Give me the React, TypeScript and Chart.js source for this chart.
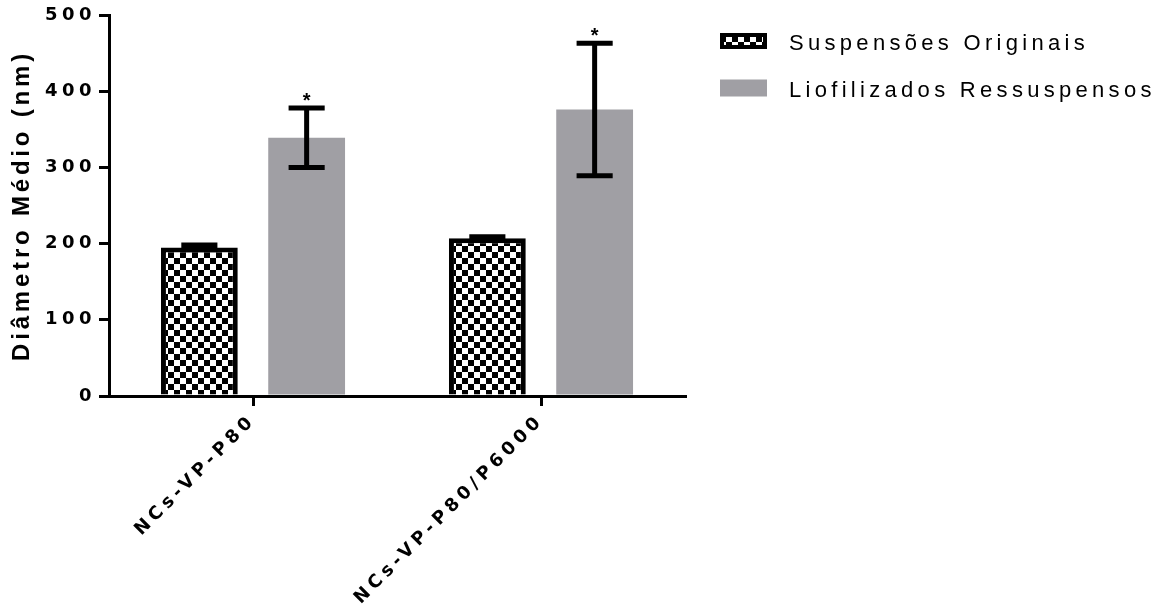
import { useEffect, useRef } from 'react';
import { Chart, registerables } from 'chart.js';

Chart.register(...registerables);

const categories = ['NCs-VP-P80', 'NCs-VP-P80/P6000'];
const seriesNames = ['Suspensões Originais', 'Liofilizados Ressuspensos'];
const originalMeans = [195, 207];
const originalErrors = [3, 2];
const originalMarks = ['', ''];
const lyophilizedMeans = [339, 376];
const lyophilizedErrors = [39, 87];
const lyophilizedMarks = ['*', '*'];
const yTickValues = [0, 100, 200, 300, 400, 500];
const yTitle = 'Diâmetro Médio (nm)';

const FONT = '"Liberation Sans", Arial, sans-serif';
const TICK_FONT = '"DejaVu Sans", "Liberation Sans", sans-serif';
const GRAY = '#a09fa4';

function makeChecker(ctx: CanvasRenderingContext2D) {
  const c = document.createElement('canvas');
  c.width = 12;
  c.height = 12;
  const g = c.getContext('2d')!;
  g.fillStyle = '#fff';
  g.fillRect(0, 0, 12, 12);
  g.fillStyle = '#000';
  g.fillRect(0, 0, 6, 6);
  g.fillRect(6, 6, 6, 6);
  return ctx.createPattern(c, 'repeat')!;
}

const spacingPlugin = {
  id: 'letterSpacing',
  beforeUpdate(chart: any) {
    chart.ctx.letterSpacing = '4.5px';
  },
  beforeDraw(chart: any) {
    chart.ctx.letterSpacing = '4.5px';
    const ys = chart.scales.y;
    if (ys && !ys.__patched) {
      const orig = ys.drawTitle.bind(ys);
      ys.drawTitle = function (...args: any[]) {
        const c = this.ctx;
        const prev = c.letterSpacing;
        c.letterSpacing = '3.8px';
        orig(...args);
        c.letterSpacing = prev;
      };
      ys.__patched = true;
    }
  },
};

const errorBarPlugin = {
  id: 'errorBars',
  afterDatasetsDraw(chart: any) {
    const { ctx } = chart;
    const y = chart.scales.y;
    chart.data.datasets.forEach((ds: any, di: number) => {
      const meta = chart.getDatasetMeta(di);
      meta.data.forEach((bar: any, i: number) => {
        const v = ds.data[i];
        const e = ds.errors[i];
        const x = bar.x;
        const half = bar.width * 0.235;
        const yTop = y.getPixelForValue(v + e);
        const yBot = y.getPixelForValue(v - e);
        ctx.save();
        ctx.strokeStyle = '#000';
        ctx.lineWidth = 5;
        ctx.lineCap = 'butt';
        ctx.beginPath();
        ctx.moveTo(x, yTop);
        ctx.lineTo(x, yBot);
        ctx.moveTo(x - half, yTop);
        ctx.lineTo(x + half, yTop);
        ctx.moveTo(x - half, yBot);
        ctx.lineTo(x + half, yBot);
        ctx.stroke();
        const mark = ds.marks[i];
        if (mark) {
          ctx.letterSpacing = '0px';
          ctx.fillStyle = '#000';
          ctx.font = `bold 20px ${FONT}`;
          ctx.textAlign = 'center';
          ctx.textBaseline = 'alphabetic';
          ctx.fillText(mark, x, yTop - 1);
        }
        ctx.restore();
      });
    });
  },
};

const legendPlugin = {
  id: 'customLegend',
  afterDraw(chart: any) {
    const { ctx, chartArea } = chart;
    const x0 = chartArea.right + 35;
    const boxW = 47;
    ctx.save();
    ctx.letterSpacing = '4.3px';
    ctx.font = `22px ${FONT}`;
    ctx.textAlign = 'left';
    ctx.textBaseline = 'middle';
    chart.data.datasets.forEach((ds: any, i: number) => {
      const cy = chartArea.top + 26 + i * 47;
      if (i === 0) {
        ctx.fillStyle = ds.backgroundColor;
        ctx.fillRect(x0, cy - 8, boxW, 16);
        ctx.strokeStyle = '#000';
        ctx.lineWidth = 4;
        ctx.strokeRect(x0 + 2, cy - 6, boxW - 4, 12);
      } else {
        ctx.fillStyle = ds.backgroundColor;
        ctx.fillRect(x0, cy - 8.5, boxW, 17);
      }
      ctx.fillStyle = '#000';
      ctx.fillText(ds.label, x0 + boxW + 22, cy + 3);
    });
    ctx.restore();
  },
};

export default function App() {
  const canvasRef = useRef<HTMLCanvasElement>(null);

  useEffect(() => {
    const canvas = canvasRef.current!;
    const ctx = canvas.getContext('2d')!;
    const checker = makeChecker(ctx);

    const chart = new Chart(canvas, {
      type: 'bar',
      data: {
        labels: categories,
        datasets: [
          {
            label: seriesNames[0],
            data: originalMeans,
            errors: originalErrors,
            marks: originalMarks,
            backgroundColor: checker,
            borderColor: '#000',
            borderWidth: 5,
            categoryPercentage: 0.745,
            barPercentage: 0.716,
          } as any,
          {
            label: seriesNames[1],
            data: lyophilizedMeans,
            errors: lyophilizedErrors,
            marks: lyophilizedMarks,
            backgroundColor: GRAY,
            borderWidth: 0,
            categoryPercentage: 0.745,
            barPercentage: 0.716,
          } as any,
        ],
      },
      options: {
        responsive: true,
        maintainAspectRatio: false,
        animation: false,
        layout: { padding: { left: 8, top: 15, right: 481, bottom: 0 } },
        plugins: {
          legend: { display: false },
          tooltip: { enabled: false },
        },
        scales: {
          x: {
            offset: true,
            grid: {
              display: true,
              drawOnChartArea: false,
              drawTicks: true,
              tickLength: 10,
              lineWidth: 3,
              tickWidth: 3,
              tickColor: '#000',
              color: '#000',
              offset: false,
            },
            border: { display: true, color: '#000', width: 3 },
            ticks: {
              color: '#000',
              font: { family: TICK_FONT, size: 18, weight: 'bold' },
              minRotation: 45,
              maxRotation: 45,
              padding: 4,
              autoSkip: false,
            },
            afterFit: (s: any) => {
              s.height = 211;
            },
          },
          y: {
            min: 0,
            max: 500,
            afterBuildTicks: (s: any) => {
              s.ticks = yTickValues.map((v) => ({ value: v }));
            },
            grid: {
              drawOnChartArea: false,
              tickLength: 10,
              lineWidth: 3,
              tickWidth: 3,
              tickColor: '#000',
              color: '#000',
            },
            border: { display: true, color: '#000', width: 3 },
            ticks: {
              color: '#000',
              font: { family: TICK_FONT, size: 18, weight: 'bold' },
              padding: 3,
            },
            title: {
              display: true,
              text: yTitle,
              color: '#000',
              font: { family: FONT, size: 24, weight: 'bold' },
              padding: 0,
            },
            afterFit: (s: any) => {
              s.width = 101;
            },
          },
        },
      } as any,
      plugins: [spacingPlugin, errorBarPlugin, legendPlugin],
    });

    return () => {
      chart.destroy();
    };
  }, []);

  return (
    <div style={{ position: 'fixed', left: 0, top: 0, width: 1166, height: 607, background: '#fff' }}>
      <canvas ref={canvasRef} />
    </div>
  );
}
